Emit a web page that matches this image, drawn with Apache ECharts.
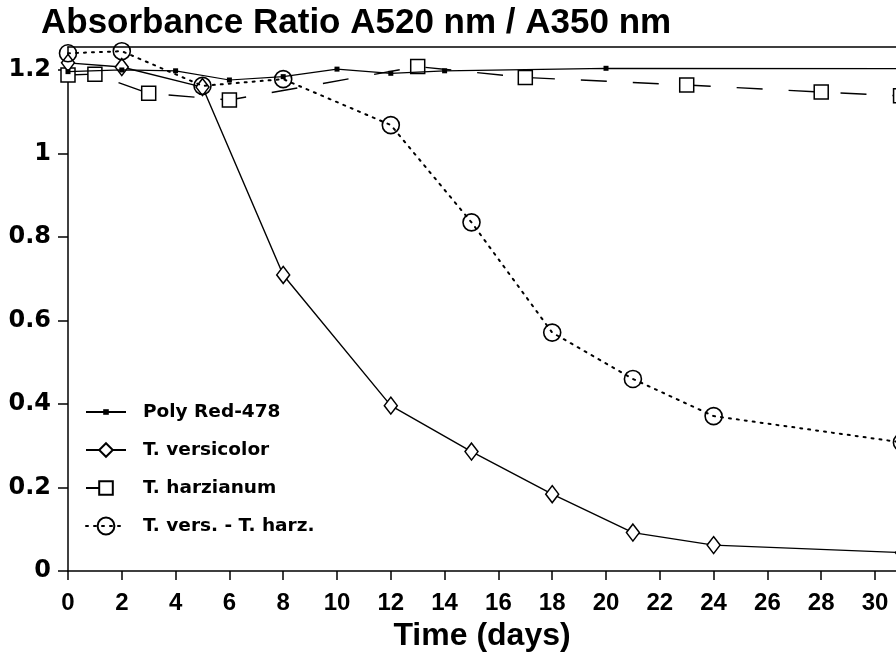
<!DOCTYPE html>
<html>
<head>
<meta charset="utf-8">
<script src="https://cdn.jsdelivr.net/npm/echarts@6/dist/echarts.min.js"></script>
<style>
  html, body { margin: 0; padding: 0; background: #fff; }
  #chart { width: 896px; height: 652px; }
</style>
</head>
<body>
<div id="chart"></div>
<script>
// Absorbance ratio A520/A350 of Poly Red-478 over time, per treatment
const titleText = 'Absorbance Ratio A520 nm / A350 nm';
const xAxisName = 'Time (days)';
const xTicks = [0, 2, 4, 6, 8, 10, 12, 14, 16, 18, 20, 22, 24, 26, 28, 30];
const yTicks = [0, 0.2, 0.4, 0.6, 0.8, 1, 1.2];

const seriesNames = ['Poly Red-478', 'T. versicolor', 'T. harzianum', 'T. vers. - T. harz.'];

// Poly Red-478 control
const polyDays = [0, 2, 4, 6, 8, 10, 12, 14, 20, 31];
const polyVals = [1.196, 1.200, 1.198, 1.176, 1.184, 1.202, 1.192, 1.198, 1.204, 1.203];

// T. versicolor
const versDays = [0, 2, 5, 8, 12, 15, 18, 21, 24, 31];
const versVals = [1.217, 1.207, 1.159, 0.709, 0.396, 0.286, 0.184, 0.092, 0.062, 0.044];

// T. harzianum
const harzDays = [0, 1, 3, 6, 13, 17, 23, 28, 30.95];
const harzVals = [1.188, 1.190, 1.144, 1.128, 1.208, 1.182, 1.164, 1.147, 1.138];

// T. versicolor - T. harzianum co-culture
const mixDays = [0, 2, 5, 8, 12, 15, 18, 21, 24, 31];
const mixVals = [1.240, 1.245, 1.162, 1.178, 1.068, 0.835, 0.571, 0.460, 0.371, 0.308];

const FONT = 'DejaVu Sans';
const HEAD_FONT = 'Liberation Sans';
const BLACK = '#000';

function pairs(xs, ys) {
  return xs.map((x, i) => [x, ys[i]]);
}

const X_MAX = 30.78;
const Y_MAX = 1.255;

const seriesDefs = [
  {
    name: seriesNames[0], data: pairs(polyDays, polyVals),
    symbol: 'rect', symbolSize: 5,
    itemStyle: { color: BLACK },
    lineStyle: { color: BLACK, width: 1.2, type: 'solid' },
    z: 4
  },
  {
    name: seriesNames[1], data: pairs(versDays, versVals),
    symbol: 'diamond', symbolSize: [13, 17],
    itemStyle: { color: '#fff', borderColor: BLACK, borderWidth: 1.5 },
    lineStyle: { color: BLACK, width: 1.4, type: 'solid' },
    z: 3
  },
  {
    name: seriesNames[2], data: pairs(harzDays, harzVals),
    symbol: 'rect', symbolSize: 14,
    itemStyle: { color: '#fff', borderColor: BLACK, borderWidth: 1.5 },
    lineStyle: { color: BLACK, width: 1.4, type: [26, 26] },
    z: 2
  },
  {
    name: seriesNames[3], data: pairs(mixDays, mixVals),
    symbol: 'circle', symbolSize: 17,
    itemStyle: { color: 'rgba(255,255,255,0)', borderColor: BLACK, borderWidth: 1.6 },
    lineStyle: { color: BLACK, width: 2, type: [2, 6], cap: 'round' },
    z: 5
  }
];

const series = seriesDefs.map(d => Object.assign({
  type: 'line',
  clip: false,
  showSymbol: true,
  animation: false
}, d));

// one legend block per entry so each keeps its own marker size
const legendRows = [
  { name: seriesNames[0], center: 412, itemHeight: 7 },
  { name: seriesNames[1], center: 450, itemHeight: 17 },
  { name: seriesNames[2], center: 488, itemHeight: 17 },
  { name: seriesNames[3], center: 526, itemHeight: 21 }
];

const legends = legendRows.map(r => ({
  data: [r.name],
  orient: 'vertical',
  left: 85,
  top: r.center - 11,
  padding: 0,
  itemWidth: 40,
  itemHeight: r.itemHeight,
  selectedMode: false,
  textStyle: {
    fontFamily: FONT, fontWeight: 'bold', fontSize: 18.5, color: BLACK,
    lineHeight: 22, padding: [0, 0, 0, 12]
  }
}));

const axisLine = { show: true, onZero: false, lineStyle: { color: BLACK, width: 1.5 } };

const option = {
  backgroundColor: '#fff',
  animation: false,
  title: {
    text: titleText,
    left: 36, top: 1,
    textStyle: { fontFamily: HEAD_FONT, fontWeight: 'bold', fontSize: 35, color: BLACK }
  },
  legend: legends,
  grid: { left: 68, right: 0, top: 47, bottom: 81, containLabel: false, outerBoundsMode: 'none' },
  xAxis: [
    {
      type: 'value', min: 0, max: X_MAX,
      name: xAxisName, nameLocation: 'middle', nameGap: 45,
      nameTextStyle: { fontFamily: HEAD_FONT, fontWeight: 'bold', fontSize: 32, color: BLACK },
      axisLine: axisLine,
      axisTick: { show: true, customValues: xTicks, length: 9, inside: false, lineStyle: { color: BLACK, width: 1.5 } },
      axisLabel: { customValues: xTicks, margin: 20, fontFamily: HEAD_FONT, fontWeight: 'bold', fontSize: 24, color: BLACK },
      splitLine: { show: false }
    },
    {
      // upper frame edge
      type: 'value', min: 0, max: X_MAX, position: 'top',
      axisLine: axisLine,
      axisTick: { show: false }, axisLabel: { show: false }, splitLine: { show: false }
    }
  ],
  yAxis: {
    type: 'value', min: 0, max: Y_MAX,
    axisLine: axisLine,
    axisTick: { show: true, customValues: yTicks, length: 10, lineStyle: { color: BLACK, width: 1.5 } },
    axisLabel: { customValues: yTicks, margin: 17, fontFamily: FONT, fontWeight: 'bold', fontSize: 24, color: BLACK },
    splitLine: { show: false }
  },
  series: series
};

const chart = echarts.init(document.getElementById('chart'), null, { renderer: 'canvas' });
chart.setOption(option);
</script>
</body>
</html>
